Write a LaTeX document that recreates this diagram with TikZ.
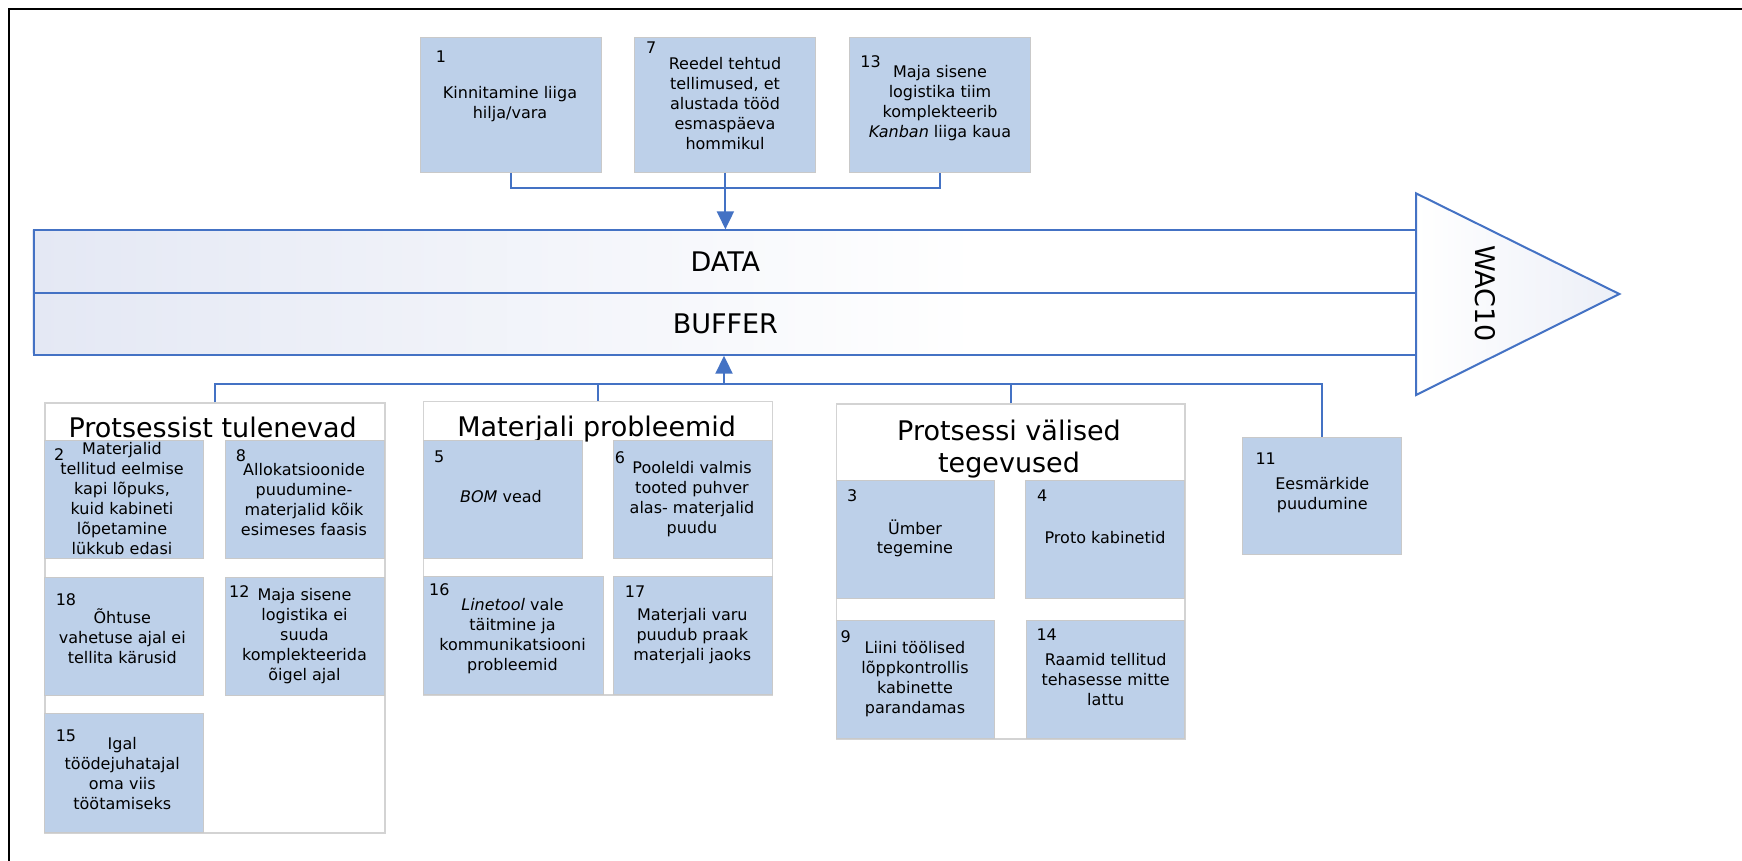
\documentclass[tikz,border=0pt]{standalone}
\usepackage{fontspec}
\setmainfont{DejaVu Sans}
\usetikzlibrary{arrows.meta}
\definecolor{linkblue}{HTML}{4472C4}
\definecolor{cellfill}{HTML}{BDD0E9}
\definecolor{cellline}{HTML}{C9C9C9}
\definecolor{grpline}{HTML}{D3D3D3}
\definecolor{lav}{HTML}{E4E8F4}
\begin{document}
\begin{tikzpicture}[x=1pt,y=-1pt,
  causebox/.style={draw=cellline, line width=1pt, fill=cellfill, anchor=north west, inner sep=0pt},
  grpbox/.style={draw=grpline, line width=1.5pt, fill=white, anchor=north west, inner sep=0pt},
  num/.style={font=\fontsize{16}{20}\selectfont, inner sep=0pt},
  txt/.style={font=\fontsize{16}{20}\selectfont, align=center, inner sep=0pt},
  ttl/.style={font=\fontsize{27}{32}\selectfont, align=center, inner sep=0pt},
  bandrow/.style={draw=linkblue, line width=2pt, anchor=north west, inner sep=0pt,
    minimum width=1383.3pt, minimum height=62.2pt, font=\fontsize{27}{32}\selectfont},
  link/.style={draw=linkblue, line width=2pt},
  tip/.style={-{Triangle[length=18pt,width=17pt]}}
]
\useasboundingbox (0,0) rectangle (1742,861);
\fill[white] (0,0) rectangle (1742,861);
% outer frame
\draw[black, line width=2pt] (9,861) -- (9,9) -- (1742,9);

% main band with soft gradient on the left
\shade[left color=lav, right color=white] (32.7,229.3) rectangle (980,353.7);
\node[bandrow] (data) at (32.7,229.3) {DATA};
\node[bandrow] (buffer) at (32.7,291.5) {BUFFER};

% arrow head of the spine
\shade[left color=white, right color=lav!70] (1416,193.3) -- (1619.3,294) -- (1416,395) -- cycle;
\draw[linkblue, line width=2pt, line join=miter] (1416,193.3) -- (1619.3,294) -- (1416,395) -- cycle;
\node[font=\fontsize{27}{32}\selectfont, rotate=-90, inner sep=0pt] (wac) at (1485.7,293.5) {WAC10};

% upper causes
\node[causebox, minimum width=181pt, minimum height=135pt] (b1) at (420.2,36.7) {};
\node[causebox, minimum width=181pt, minimum height=135pt] (b7) at (634.4,36.7) {};
\node[causebox, minimum width=181pt, minimum height=135pt] (b13) at (849,36.7) {};
\node[num] (n1) at (441,57) {1};
\node[txt] (t1) at (510,104) {Kinnitamine liiga\\hilja/vara};
\node[num] (n7) at (651.3,47.3) {7};
\node[txt] (t7) at (725,103.3) {Reedel tehtud\\tellimused, et\\alustada tööd\\esmaspäeva\\hommikul};
\node[num] (n13) at (870.5,61.7) {13};
\node[txt] (t13) at (940,103.3) {Maja sisene\\logistika tiim\\komplekteerib\\\textit{Kanban} liiga kaua};

% group frames
\node[grpbox, minimum width=339.7pt, minimum height=430pt] (g1) at (44.3,402.3) {};
\node[grpbox, minimum width=349pt, minimum height=293.3pt] (g2) at (422.7,400.7) {};
\node[grpbox, minimum width=348.6pt, minimum height=335pt] (g3) at (835.7,403.3) {};
\node[ttl, anchor=base] (tt1) at (212.7,437.7) {Protsessist tulenevad};
\node[ttl, anchor=base] (tt2) at (596.7,436.7) {Materjali probleemid};
\node[ttl] (tt3) at (1009,449.3) {Protsessi välised\\tegevused};

% group 1
\node[causebox, minimum width=158.4pt, minimum height=118.3pt] (b2) at (44.3,440) {};
\node[causebox, minimum width=158.7pt, minimum height=118.3pt] (b8) at (225.3,440) {};
\node[causebox, minimum width=158.4pt, minimum height=118pt] (b18) at (44.3,577.3) {};
\node[causebox, minimum width=158.7pt, minimum height=118pt] (b12) at (225.3,577.3) {};
\node[causebox, minimum width=158.4pt, minimum height=119pt] (b15) at (44.3,713.3) {};
\node[num] (n2) at (59.3,455) {2};
\node[txt] (t2) at (122,498.8) {Materjalid\\tellitud eelmise\\kapi lõpuks,\\kuid kabineti\\lõpetamine\\lükkub edasi};
\node[num] (n8) at (241,455.7) {8};
\node[txt] (t8) at (304,499.5) {Allokatsioonide\\puudumine-\\materjalid kõik\\esimeses faasis};
\node[num] (n18) at (66,600) {18};
\node[txt] (t18) at (122.3,636) {Õhtuse\\vahetuse ajal ei\\tellita kärusid};
\node[num] (n12) at (239.3,591.7) {12};
\node[txt] (t12) at (304.5,636) {Maja sisene\\logistika ei\\suuda\\komplekteerida\\õigel ajal};
\node[num] (n15) at (66,735.7) {15};
\node[txt] (t15) at (122.3,773.3) {Igal\\töödejuhatajal\\oma viis\\töötamiseks};

% group 2
\node[causebox, minimum width=159pt, minimum height=118.3pt] (b5) at (422.7,440) {};
\node[causebox, minimum width=158.4pt, minimum height=118.3pt] (b6) at (613.3,440) {};
\node[causebox, minimum width=180.6pt, minimum height=118pt] (b16) at (422.7,576) {};
\node[causebox, minimum width=158.4pt, minimum height=118pt] (b17) at (613.3,576) {};
\node[num] (n5) at (439.3,456.7) {5};
\node[txt] (t5) at (501,496.6) {\textit{BOM} vead};
\node[num] (n6) at (620,457.7) {6};
\node[txt] (t6) at (692,498.7) {Pooleldi valmis\\tooted puhver\\alas- materjalid\\puudu};
\node[num] (n16) at (439.3,590) {16};
\node[txt] (t16) at (512.5,635.7) {\textit{Linetool} vale\\täitmine ja\\kommunikatsiooni\\probleemid};
\node[num] (n17) at (635,591.7) {17};
\node[txt] (t17) at (692.3,635.7) {Materjali varu\\puudub praak\\materjali jaoks};

% group 3
\node[causebox, minimum width=158.6pt, minimum height=118.3pt] (b3) at (835.7,480) {};
\node[causebox, minimum width=159.3pt, minimum height=118.3pt] (b4) at (1025,480) {};
\node[causebox, minimum width=158.6pt, minimum height=118.3pt] (b9) at (835.7,620) {};
\node[causebox, minimum width=158.3pt, minimum height=118.3pt] (b14) at (1026,620) {};
\node[num] (n3) at (852.3,496) {3};
\node[txt, font=\fontsize{16}{18.5}\selectfont] (t3) at (915,538.5) {Ümber\\tegemine};
\node[num] (n4) at (1042.3,496) {4};
\node[txt] (t4) at (1105,537.5) {Proto kabinetid};
\node[num] (n9) at (845.7,636.7) {9};
\node[txt] (t9) at (915,679.3) {Liini töölised\\lõppkontrollis\\kabinette\\parandamas};
\node[num] (n14) at (1046.7,634.3) {14};
\node[txt] (t14) at (1105.7,679.3) {Raamid tellitud\\tehasesse mitte\\lattu};

% standalone cause
\node[causebox, minimum width=158.4pt, minimum height=117.6pt] (b11) at (1242.3,436.7) {};
\node[num] (n11) at (1265.7,459) {11};
\node[txt] (t11) at (1322.3,495.3) {Eesmärkide\\puudumine};

% connectors above the band
\coordinate (topbus) at (724,188);
\draw[link] (b1.south) -- (b1.south |- topbus) -- (b13.south |- topbus) -- (b13.south);
\draw[link, tip] (b7.south) -- (b7.south |- data.north);

% connectors below the band
\coordinate (botbus) at (724,384);
\draw[link] (g1.north) -- (g1.north |- botbus) -- (b11.north |- botbus) -- (b11.north);
\draw[link] (g2.north) -- (g2.north |- botbus);
\draw[link] (g3.north) -- (g3.north |- botbus);
\draw[link, tip] (botbus) -- (botbus |- buffer.south);
\end{tikzpicture}
\end{document}
